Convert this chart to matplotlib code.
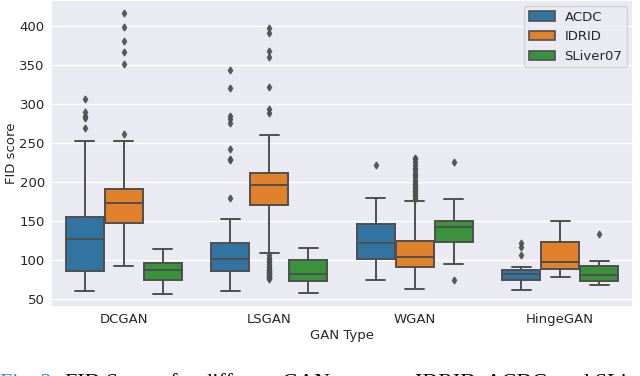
import matplotlib
matplotlib.use("Agg")
import matplotlib.pyplot as plt
import matplotlib.patches as mpatches
import seaborn as sns

gan_types = ["DCGAN", "LSGAN", "WGAN", "HingeGAN"]
datasets = ["ACDC", "IDRID", "SLiver07"]

# box stats per dataset, one value per GAN type: (whislo, q1, med, q3, whishi)
acdc_stats = [(61, 86, 127, 155.5, 253), (60.5, 86, 101, 121.5, 152.5),
              (75, 101, 122.5, 146, 179), (62, 75, 82, 88, 91)]
idrid_stats = [(92, 148, 173.5, 191.5, 253), (109, 170.5, 196, 211.5, 260),
               (63, 91, 104, 124.4, 175.6), (79, 88.5, 98, 123.5, 150)]
sliver_stats = [(57, 74.5, 87, 96.5, 114), (57.7, 73, 82, 100, 115),
                (95.3, 122.7, 142, 150, 178), (68, 73.5, 80.8, 92.3, 99)]

acdc_fliers = [[306, 290, 285, 282, 269],
               [343, 320.5, 284, 281, 275, 242, 229.5, 228, 179],
               [222],
               [122.3, 116.5, 106]]
idrid_fliers = [[416, 398, 380, 366, 351, 262],
                [397, 390.6, 368, 360.6, 321, 294, 288,
                 106, 103, 101, 99, 97, 95, 93, 91, 89, 88, 87, 86, 85,
                 84, 83, 82, 81, 80, 79, 78, 77, 76],
                [178, 180, 182, 184, 186, 188, 190, 192, 194, 196, 198, 200,
                 203, 206, 209, 212, 215, 218, 222, 226, 229, 231],
                []]
sliver_fliers = [[], [], [225, 74], [134]]

sns.set_theme(style="darkgrid")
palette = ["#3274a1", "#e1812c", "#3a923a"]
line_col = "#4f4f4f"

fig = plt.figure(figsize=(6.4, 3.76), dpi=100)
ax = fig.add_axes([0.0797, 0.1835, 0.9093, 0.8165])

all_stats = [acdc_stats, idrid_stats, sliver_stats]
all_fliers = [acdc_fliers, idrid_fliers, sliver_fliers]
width = 0.8 / len(datasets)

for j, (stats, fliers) in enumerate(zip(all_stats, all_fliers)):
    bxp_stats = []
    for (lo, q1, med, q3, hi), fl in zip(stats, fliers):
        bxp_stats.append(dict(whislo=lo, q1=q1, med=med, q3=q3, whishi=hi, fliers=fl))
    positions = [i - 0.4 + width * (j + 0.5) for i in range(len(gan_types))]
    ax.bxp(bxp_stats, positions=positions, widths=width * 0.98, patch_artist=True,
           showfliers=True, manage_ticks=False,
           boxprops=dict(facecolor=palette[j], edgecolor=line_col, linewidth=1.4),
           medianprops=dict(color=line_col, linewidth=1.4),
           whiskerprops=dict(color=line_col, linewidth=1.4),
           capprops=dict(color=line_col, linewidth=1.4),
           flierprops=dict(marker="d", markersize=3.5, markerfacecolor=line_col,
                           markeredgecolor=line_col, alpha=0.9))

ax.set_xlim(-0.5, len(gan_types) - 0.5)
ax.set_ylim(40, 433)
ax.set_xticks(range(len(gan_types)))
ax.set_xticklabels(gan_types, fontsize=9.5)
ax.set_yticks([50, 100, 150, 200, 250, 300, 350, 400])
ax.tick_params(axis="both", length=0, pad=4.5, labelsize=9.5)
ax.grid(False, axis="x")
ax.set_xlabel("GAN Type", fontsize=9.5, labelpad=2)
ax.set_ylabel("FID score", fontsize=9.5, labelpad=1)

handles = [mpatches.Patch(facecolor=c, edgecolor=line_col, linewidth=1.2, label=d)
           for c, d in zip(palette, datasets)]
ax.legend(handles=handles, loc="upper right", fontsize=9.5, borderpad=0.35,
          handletextpad=0.7, bbox_to_anchor=(1.0, 1.0), borderaxespad=0.45)

fig.text(0.0, -0.033, "Fig. 2.", color="#2f8fd8", fontsize=15.8,
         family="Liberation Serif", va="baseline", ha="left")
fig.text(0.1016, -0.033, "FID Scores for different GAN types on IDRID, ACDC, and SLiver07",
         color="black", fontsize=15.8, family="Liberation Serif", va="baseline", ha="left")

fig.savefig("out.png", dpi=100)
